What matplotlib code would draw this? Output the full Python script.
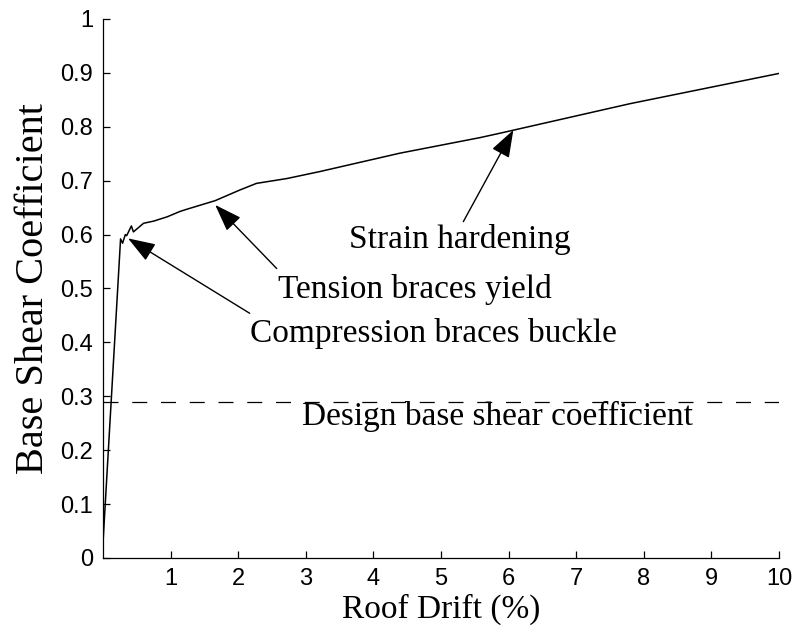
import matplotlib
matplotlib.use("Agg")
import matplotlib.pyplot as plt

# Pushover curve: roof drift (%) vs base shear coefficient
drift = [0.0, 0.26, 0.29, 0.33, 0.35, 0.42, 0.45, 0.60, 0.75, 0.95,
         1.14, 1.24, 1.66, 2.03, 2.27, 2.72, 3.21, 4.39, 5.58, 5.87,
         7.80, 10.0]
shear = [0.028, 0.592, 0.584, 0.600, 0.598, 0.616, 0.605, 0.621, 0.625, 0.633,
         0.643, 0.647, 0.663, 0.683, 0.695, 0.704, 0.717, 0.751, 0.780, 0.788,
         0.843, 0.899]

design_coef = 0.29

x_ticks = [1, 2, 3, 4, 5, 6, 7, 8, 9, 10]
y_ticks = [0, 0.1, 0.2, 0.3, 0.4, 0.5, 0.6, 0.7, 0.8, 0.9, 1]

# (label, text position, arrow tail, arrow head)
notes = [
    ("Strain hardening", (5.28, 0.575), (5.33, 0.624), (6.07, 0.794)),
    ("Tension braces yield", (4.61, 0.482), (2.57, 0.537), (1.66, 0.655)),
    ("Compression braces buckle", (4.89, 0.401), (2.17, 0.454), (0.37, 0.593)),
]
design_label = ("Design base shear coefficient", (5.84, 0.247))

serif = ["Liberation Serif", "DejaVu Serif"]
sans = ["Liberation Sans", "DejaVu Sans"]

fig = plt.figure(figsize=(7.99, 6.33), dpi=100)
ax = fig.add_axes([0.1289, 0.1185, 0.8461, 0.8515])

ax.plot(drift, shear, color="black", lw=1.1)
ax.axhline(design_coef, color="black", lw=0.9, dashes=(12, 11))

for label, txt, tail, head in notes:
    ax.annotate("", xy=head, xytext=tail,
                arrowprops=dict(arrowstyle="-|>,head_length=1.7,head_width=0.6",
                                color="black", lw=1.0, shrinkA=0, shrinkB=0))
    ax.text(txt[0], txt[1], label, ha="center", va="baseline",
            fontsize=24, family=serif)

ax.text(design_label[1][0], design_label[1][1], design_label[0],
        ha="center", va="baseline", fontsize=24, family=serif)

ax.set_xlim(0, 10)
ax.set_ylim(0, 1)
ax.set_xticks(x_ticks)
ax.set_yticks(y_ticks)
ax.set_xticklabels([str(v) for v in x_ticks], family=sans, fontsize=17)
ax.set_yticklabels([f"{v:g}" for v in y_ticks], family=sans, fontsize=17)
ax.tick_params(direction="in", length=5, width=0.9, pad=7)

for side in ("top", "right"):
    ax.spines[side].set_visible(False)
for side in ("left", "bottom"):
    ax.spines[side].set_linewidth(0.9)

ax.set_xlabel("Roof Drift (%)", family=serif, fontsize=24, labelpad=3)
ax.set_ylabel("Base Shear Coefficient", family=serif, fontsize=29, labelpad=6)

fig.savefig("out.png", dpi=100)
